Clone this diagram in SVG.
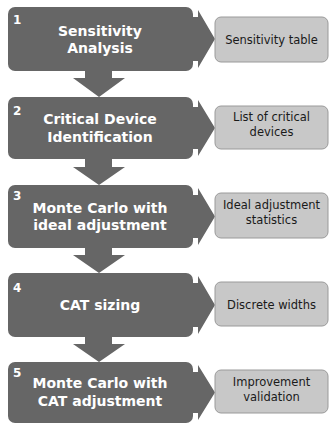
<svg xmlns="http://www.w3.org/2000/svg" width="331" height="424" viewBox="0 0 331 424">
<style>
.main{fill:#666666}
.out{fill:#c8c8c8;stroke:#9a9a9a;stroke-width:1}
.num{font-family:"DejaVu Sans",sans-serif;font-weight:bold;font-size:12px;fill:#ffffff}
.t{font-family:"DejaVu Sans",sans-serif;font-weight:bold;font-size:14px;fill:#ffffff;text-anchor:middle}
.o{font-family:"DejaVu Sans",sans-serif;font-size:11.5px;fill:#1a1a1a;text-anchor:middle}
</style>
<rect width="331" height="424" fill="#ffffff"/>
<g id="connectors" class="main">
  <path d="M85,71 H112 V78 H125 L99,97 L73,78 H85 Z"/>
  <path d="M85,159 H112 V167 H125 L99,185 L73,167 H85 Z"/>
  <path d="M85,248 H112 V255 H125 L99,273 L73,255 H85 Z"/>
  <path d="M85,336 H112 V344 H125 L99,362 L73,344 H85 Z"/>
  <path d="M190,17 H198 V10 L215,39 L198,68 V61 H190 Z"/>
  <path d="M190,107 H198 V100 L215,128 L198,156 V149 H190 Z"/>
  <path d="M190,195 H198 V188 L215,216.5 L198,245 V238 H190 Z"/>
  <path d="M190,283 H198 V276 L215,305 L198,334 V327 H190 Z"/>
  <path d="M190,372 H198 V365 L215,392.5 L198,420 V413 H190 Z"/>
</g>
<g id="step1">
  <rect class="main" x="8" y="7" width="185" height="64" rx="7"/>
  <text class="num" x="13" y="24">1</text>
  <text class="t" x="100" y="36">Sensitivity</text>
  <text class="t" x="100" y="53">Analysis</text>
</g>
<g id="out1">
  <rect class="out" x="215" y="17" width="113" height="45" rx="6"/>
  <text class="o" x="271.5" y="43.5">Sensitivity table</text>
</g>
<g id="step2">
  <rect class="main" x="8" y="97" width="185" height="62" rx="7"/>
  <text class="num" x="13" y="115">2</text>
  <text class="t" x="100" y="124">Critical Device</text>
  <text class="t" x="100" y="142">Identification</text>
</g>
<g id="out2">
  <rect class="out" x="215" y="106" width="113" height="43" rx="6"/>
  <text class="o" x="271.5" y="121">List of critical</text>
  <text class="o" x="271.5" y="135.5">devices</text>
</g>
<g id="step3">
  <rect class="main" x="8" y="185" width="185" height="63" rx="7"/>
  <text class="num" x="13" y="200">3</text>
  <text class="t" x="100" y="213">Monte Carlo with</text>
  <text class="t" x="100" y="230">ideal adjustment</text>
</g>
<g id="out3">
  <rect class="out" x="215" y="193" width="113" height="45" rx="6"/>
  <text class="o" x="271.5" y="209">Ideal adjustment</text>
  <text class="o" x="271.5" y="224">statistics</text>
</g>
<g id="step4">
  <rect class="main" x="8" y="273" width="185" height="64" rx="7"/>
  <text class="num" x="13" y="292">4</text>
  <text class="t" x="100" y="310">CAT sizing</text>
</g>
<g id="out4">
  <rect class="out" x="215" y="282" width="113" height="44" rx="6"/>
  <text class="o" x="271.5" y="308.5">Discrete widths</text>
</g>
<g id="step5">
  <rect class="main" x="8" y="362" width="185" height="61" rx="7"/>
  <text class="num" x="13" y="377">5</text>
  <text class="t" x="100" y="388">Monte Carlo with</text>
  <text class="t" x="100" y="406">CAT adjustment</text>
</g>
<g id="out5">
  <rect class="out" x="215" y="370" width="113" height="43" rx="6"/>
  <text class="o" x="271.5" y="386">Improvement</text>
  <text class="o" x="271.5" y="401">validation</text>
</g>
</svg>
